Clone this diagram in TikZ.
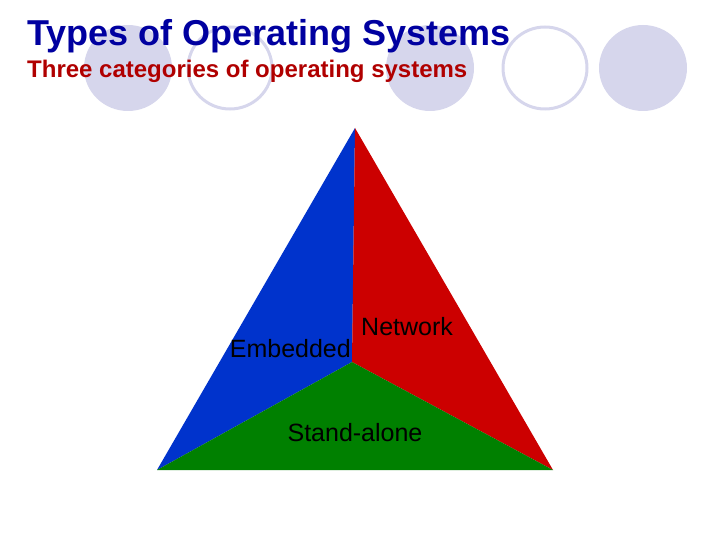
\documentclass[tikz,border=0pt]{standalone}
\usepackage{fontspec}
\setmainfont{Liberation Sans}
\definecolor{lavender}{HTML}{D6D6EC}
\definecolor{titleblue}{HTML}{0000A0}
\definecolor{subred}{HTML}{B00000}
\definecolor{sideblue}{HTML}{0033CC}
\definecolor{sidered}{HTML}{CC0000}
\definecolor{sidegreen}{HTML}{008000}
\tikzset{
  dot/.style={fill=lavender, draw=none},
  ring/.style={draw=lavender, line width=3pt},
  label/.style={font=\fontsize{25}{28}\selectfont, inner sep=0pt}
}

\begin{document}
\begin{tikzpicture}[x=1pt, y=-1pt]
  \useasboundingbox (0,0) rectangle (720,540);
  % Background circles
  \fill [dot] (128,68) ellipse [x radius=44, y radius=43];
  \draw [ring] (230,68) ellipse [x radius=42, y radius=41];
  \fill [dot] (430,68) ellipse [x radius=44, y radius=43];
  \draw [ring] (545,68) ellipse [x radius=42, y radius=41];
  \fill [dot] (643,68) ellipse [x radius=44, y radius=43];

  \node [anchor=west, inner sep=0pt, text=titleblue, font=\bfseries\fontsize{36}{40}\selectfont] (title) at (27,36) {Types of Operating Systems};
  \node [anchor=west, inner sep=0pt, text=subred, font=\bfseries\fontsize{24}{28}\selectfont] (subtitle) at (27,71) {Three categories of operating systems};

  % Triangle
  \coordinate (apex) at (355,128);
  \coordinate (left) at (157,470);
  \coordinate (right) at (553,470);
  \coordinate (mid) at (352,362);
  \fill [sideblue] (apex) -- (left) -- (mid) -- cycle;
  \fill [sidered] (apex) -- (mid) -- (right) -- cycle;
  \fill [sidegreen] (left) -- (mid) -- (right) -- cycle;

  \node [label, anchor=west] (net) at (361,327) {Network};
  \node [label, anchor=east] (emb) at (351,349) {Embedded};
  \node [label] (stand) at (355,433) {Stand-alone};
\end{tikzpicture}
\end{document}
